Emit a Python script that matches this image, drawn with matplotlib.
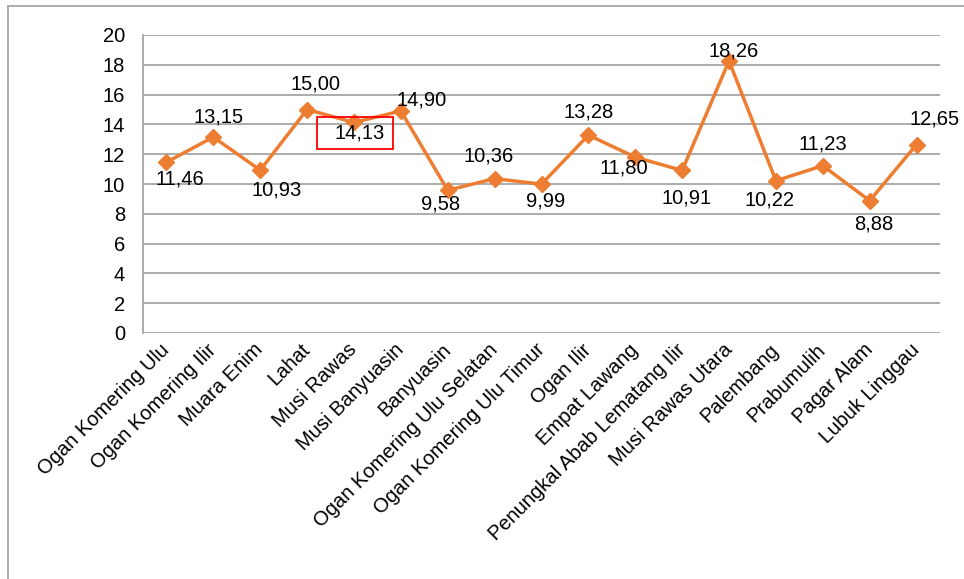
import matplotlib
matplotlib.use('Agg')
import matplotlib.pyplot as plt
from matplotlib.patches import Rectangle
from matplotlib.lines import Line2D

plt.rcParams['font.family'] = ['Liberation Sans', 'DejaVu Sans']

# data
kabupaten = ['Ogan Komering Ulu', 'Ogan Komering Ilir', 'Muara Enim', 'Lahat',
             'Musi Rawas', 'Musi Banyuasin', 'Banyuasin', 'Ogan Komering Ulu Selatan',
             'Ogan Komering Ulu Timur', 'Ogan Ilir', 'Empat Lawang',
             'Penungkal Abab Lematang Ilir', 'Musi Rawas Utara', 'Palembang',
             'Prabumulih', 'Pagar Alam', 'Lubuk Linggau']
nilai = [11.46, 13.15, 10.93, 15.00, 14.13, 14.90, 9.58, 10.36, 9.99, 13.28,
         11.80, 10.91, 18.26, 10.22, 11.23, 8.88, 12.65]

# geser label angka (dx, dy) dalam piksel, dy positif = ke bawah
offset = [(13, 17), (5, -20), (16, 20), (8, -26), (6, 11), (21, -11), (-7, 14),
          (-6, -23), (4, 17), (0, -23), (-11, 11), (4, 28), (5, -10), (-6, 19),
          (0, -22), (4, 23), (18, -26)]

oranye = '#ED7D31'
abu = '#A6A6A6'
fs = 14.5

fig = plt.figure(figsize=(9.64, 5.79), dpi=100)
ax = fig.add_axes([143/964, 1 - 333/579, (940 - 143)/964, (333 - 35)/579])

x = list(range(len(nilai)))
ax.plot(x, nilai, color=oranye, lw=2.5, marker='D', markersize=8, zorder=3)

for i, v in enumerate(nilai):
    dx, dy = offset[i]
    ax.annotate(f'{v:.2f}'.replace('.', ','), (i, v), xytext=(dx * 0.72, -dy * 0.72),
                textcoords='offset points', ha='center', va='center', fontsize=fs)

# kotak merah di Musi Rawas
ax.add_patch(Rectangle((317, 579 - 149), 76, 32, transform=None, fill=False,
                       edgecolor='red', lw=1.3, zorder=4))

ax.set_xlim(-0.5, len(nilai) - 0.5)
ax.set_ylim(0, 20)
ax.set_yticks(range(0, 21, 2))
ax.set_xticks(x)
ax.set_xticklabels(kabupaten, rotation=45, ha='right', va='center',
                   rotation_mode='anchor', fontsize=fs)
ax.tick_params(axis='both', length=0, labelsize=fs)
ax.tick_params(axis='y', pad=13)
ax.tick_params(axis='x', pad=10)
ax.grid(axis='y', color=abu, lw=1.3)
ax.set_axisbelow(True)
for s in ['top', 'right', 'bottom']:
    ax.spines[s].set_visible(False)
ax.spines['left'].set_color(abu)
ax.spines['left'].set_linewidth(1.3)

# bingkai
fig.add_artist(Line2D([8/964, 1], [1 - 5.5/579, 1 - 5.5/579], color=abu, lw=1.3))
fig.add_artist(Line2D([8/964, 8/964], [0, 1 - 5.5/579], color=abu, lw=1.3))

fig.savefig('out.png', dpi=100)
